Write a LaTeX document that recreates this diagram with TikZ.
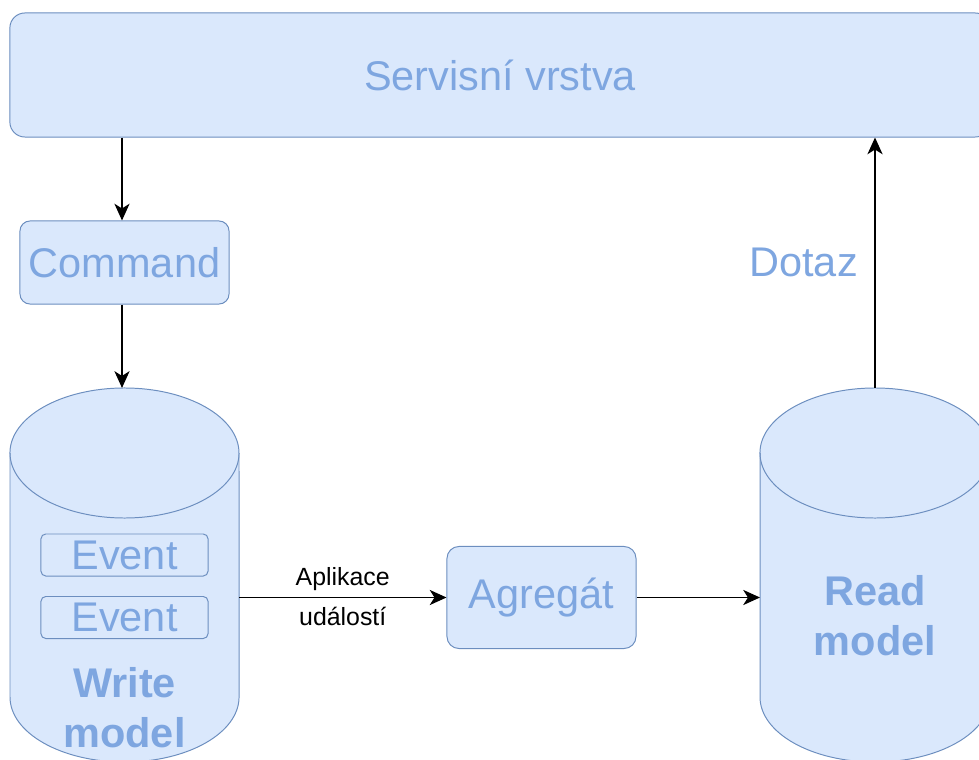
\documentclass[tikz,border=0pt]{standalone}
\usepackage{fontspec}
\setmainfont{Liberation Sans}
\usepackage{xcolor}
\usepackage{tikz}
\usetikzlibrary{arrows.meta}

\definecolor{boxfill}{HTML}{DAE8FC}
\definecolor{boxline}{HTML}{6C8EBF}
\definecolor{boxtext}{HTML}{7EA6E0}

\begin{document}
\begin{tikzpicture}[x=0.025cm, y=-0.025cm,
    box/.style={draw=boxline, fill=boxfill, line width=0.7pt, text=boxtext,
                font=\fontsize{29.5}{35.4}\selectfont},
    cap/.style={x radius=#1, y radius=1.625cm},
    flow/.style={line width=0.8pt, -{Stealth[length=0.42cm, width=0.38cm, inset=0.12cm]}}]
    \useasboundingbox (0,0) rectangle (979,760);
    \clip (0,0) rectangle (979,760);

    % Stores
    \draw[box] (10,453) -- (10,697) arc[start angle=180, end angle=360, cap=2.8625cm]
        -- (239,453) arc[start angle=0, end angle=180, cap=2.8625cm] -- cycle;
    \draw[box, fill=none] (10,453) arc[start angle=180, end angle=360, cap=2.8625cm];
    \draw[box] (760,453) -- (760,697) arc[start angle=180, end angle=360, cap=2.875cm]
        -- (990,453) arc[start angle=0, end angle=180, cap=2.875cm] -- cycle;
    \draw[box, fill=none] (760,453) arc[start angle=180, end angle=360, cap=2.875cm];
    \node[minimum width=5.725cm, minimum height=9.35cm, inner sep=0pt, outer sep=0pt] (write) at (124.5,575) {};
    \node[minimum width=5.75cm, minimum height=9.35cm, inner sep=0pt, outer sep=0pt] (read) at (875,575) {};
    \node[box, draw=none, fill=none, font=\bfseries\fontsize{29.5}{35.4}\selectfont, align=center] (writelbl) at (124.5,708) {Write\\model};
    \node[box, draw=none, fill=none, font=\bfseries\fontsize{29.5}{35.4}\selectfont, align=center] (readlbl) at (875,616) {Read\\model};
    \node[box, rounded corners=0.12cm, minimum width=4.175cm, minimum height=1.05cm, inner sep=0pt] (event1) at (124.5,555) {Event};
    \node[box, rounded corners=0.12cm, minimum width=4.175cm, minimum height=1.05cm, inner sep=0pt] (event2) at (124.5,617.5) {Event};

    % Layers and boxes
    \node[box, rounded corners=0.375cm, minimum width=24.5cm, minimum height=3.1cm] (servis) at (500,75) {Servisní vrstva};
    \node[box, rounded corners=0.25cm, minimum width=5.225cm, minimum height=2.075cm] (command) at (124.5,262.5) {Command};
    \node[box, rounded corners=0.3cm, minimum width=4.725cm, minimum height=2.55cm] (agregat) at (541.5,597.5) {Agregát};

    % Connectors
    \draw[flow] (servis.south -| command.north) ++(-2.5,0) coordinate (s1) -- (s1 |- command.north);
    \draw[flow] ([xshift=-2.5*0.025cm]command.south) -- ([xshift=-2.5*0.025cm]command.south |- write.north);
    \draw[flow] (agregat.west -| write.east) -- (agregat.west)
        node[midway, above=1pt, font=\fontsize{17.7}{21}\selectfont] {Aplikace}
        node[midway, below=3pt, font=\fontsize{17.7}{21}\selectfont] {událostí};
    \draw[flow] (agregat.east) -- (agregat.east -| read.west);
    \draw[flow] (read.north) -- (read.north |- servis.south)
        node[pos=0.5, left=0.3cm, text=boxtext, font=\fontsize{29.5}{35.4}\selectfont] (dotaz) {Dotaz};
\end{tikzpicture}
\end{document}
